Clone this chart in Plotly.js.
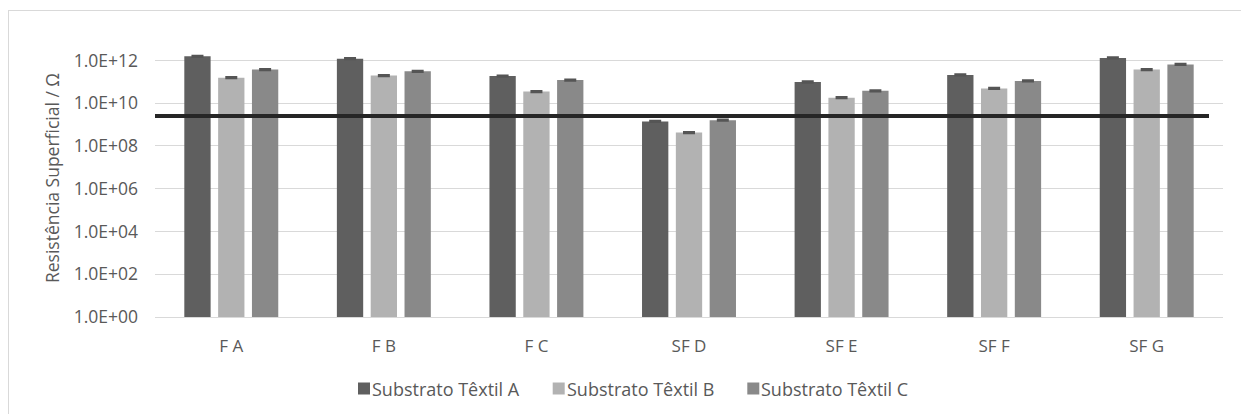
<!DOCTYPE html>
<html>
<head>
<meta charset="utf-8">
<script src="https://cdn.plot.ly/plotly-3.0.1.min.js"></script>
<style>
  html, body { margin: 0; padding: 0; background: #fff; overflow: hidden; }
  #frame { position: absolute; left: 8px; top: 10px; width: 1250px; height: 420px;
           border-left: 1px solid #d9d9d9; border-top: 1px solid #d9d9d9; box-sizing: border-box; }
  #chart { position: absolute; left: 0; top: 0; width: 1241px; height: 414px; }
</style>
</head>
<body>
<div id="frame"></div>
<div id="chart"></div>
<script>
// Surface resistance of each finish on three textile substrates (Ω)
const categories = ['F A', 'F B', 'F C', 'SF D', 'SF E', 'SF F', 'SF G'];
const seriesNames = ['Substrato Têxtil A', 'Substrato Têxtil B', 'Substrato Têxtil C'];
const substratoA = [1.55e12, 1.2e12, 1.85e11, 1.4e9, 9.8e10, 2.1e11, 1.3e12];
const substratoB = [1.55e11, 1.95e11, 3.5e10, 4.2e8, 1.8e10, 4.9e10, 3.7e11];
const substratoC = [3.7e11, 3.1e11, 1.2e11, 1.6e9, 3.8e10, 1.1e11, 6.5e11];
const errorPercent = 7;
// Reference limit drawn across the plot
const limite = 2.5e9;
const tickValues = [1e0, 1e2, 1e4, 1e6, 1e8, 1e10, 1e12];
const tickLabels = ['1.0E+00', '1.0E+02', '1.0E+04', '1.0E+06', '1.0E+08', '1.0E+10', '1.0E+12'];

const colors = ['#5f5f5f', '#b2b2b2', '#898989'];
const font = 'Open Sans, sans-serif';
const textColor = '#595959';

// plot box in pixels
const W = 1241, H = 414;
const M = { l: 155, r: 18, t: 39, b: 97 };
const plotW = W - M.l - M.r, plotH = H - M.t - M.b;
const paperX = px => (px - M.l) / plotW;
const paperY = py => (H - M.b - py) / plotH;

const values = [substratoA, substratoB, substratoC];
const traces = values.map((v, i) => ({
  type: 'bar',
  name: seriesNames[i],
  x: categories,
  y: v,
  marker: { color: colors[i] },
  error_y: { type: 'percent', value: errorPercent, width: 6, thickness: 2, color: '#555555' },
  showlegend: false,
  hoverinfo: 'x+y'
}));

traces.push({
  type: 'scatter',
  mode: 'lines',
  x: [paperX(154), paperX(1209)],
  y: [limite, limite],
  xaxis: 'x2',
  yaxis: 'y',
  line: { color: '#262626', width: 4 },
  showlegend: false,
  hoverinfo: 'skip'
});

// legend row below the axis: swatch + label per series
const legendLeft = [358, 552.7, 747.3];
const legendMidY = 388.5;
const swatch = 12;
const shapes = [];
const annotations = [];
seriesNames.forEach((name, i) => {
  shapes.push({
    type: 'rect', xref: 'paper', yref: 'paper', layer: 'above',
    x0: paperX(legendLeft[i]), x1: paperX(legendLeft[i] + swatch),
    y0: paperY(legendMidY + swatch / 2), y1: paperY(legendMidY - swatch / 2),
    fillcolor: colors[i], line: { width: 0 }
  });
  annotations.push({
    xref: 'paper', yref: 'paper',
    x: paperX(legendLeft[i] + swatch + 1), y: paperY(legendMidY),
    xanchor: 'left', yanchor: 'middle',
    text: name, showarrow: false, borderpad: 0,
    font: { family: font, size: 18, color: textColor }
  });
});

const layout = {
  width: W,
  height: H,
  margin: M,
  paper_bgcolor: 'rgba(0,0,0,0)',
  plot_bgcolor: 'rgba(0,0,0,0)',
  font: { family: font, color: textColor, size: 17 },
  barmode: 'group',
  bargap: 0.335,
  bargroupgap: 0.222,
  xaxis: {
    type: 'category',
    showgrid: false,
    showline: true,
    linecolor: '#d9d9d9',
    linewidth: 1,
    ticks: '',
    ticklabelstandoff: 14,
    tickfont: { size: 17, color: textColor }
  },
  xaxis2: { overlaying: 'x', range: [0, 1], visible: false, fixedrange: true },
  yaxis: {
    type: 'log',
    range: [0, 13],
    tickvals: tickValues,
    ticktext: tickLabels,
    showgrid: true,
    gridcolor: '#d9d9d9',
    gridwidth: 1,
    zeroline: false,
    showline: false,
    ticks: '',
    ticklabelstandoff: 16,
    tickfont: { size: 17.5, color: textColor },
    title: { text: 'Resistência Superficial / Ω', font: { size: 17.5, color: textColor }, standoff: 9 }
  },
  shapes: shapes,
  annotations: annotations,
  showlegend: false
};

Plotly.newPlot('chart', traces, layout, { displayModeBar: false, staticPlot: true });
</script>
</body>
</html>
